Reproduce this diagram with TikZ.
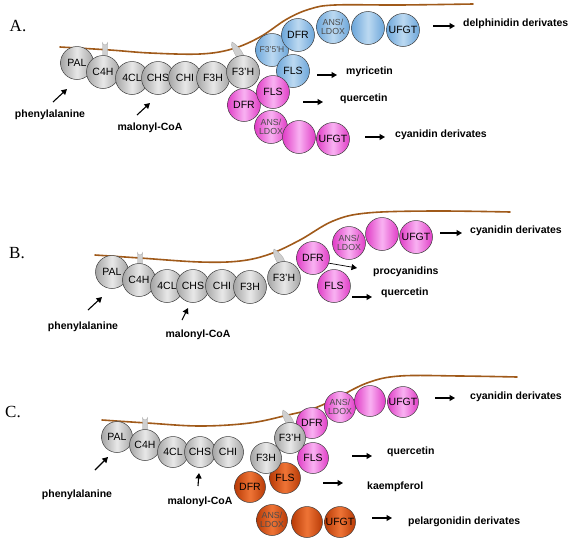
\documentclass[tikz,border=0pt]{standalone}
\usepackage{fontspec}
\setmainfont{Liberation Sans}
\newfontfamily\panelfont{Liberation Serif}
\usetikzlibrary{arrows.meta}
\definecolor{membc}{HTML}{A05A1A}
\definecolor{gEdge}{HTML}{A4A4A4}
\definecolor{gMid}{HTML}{E8E8E8}
\definecolor{bEdge}{HTML}{6CA6DA}
\definecolor{bMid}{HTML}{BCD9F1}
\definecolor{pEdge}{HTML}{E03CC6}
\definecolor{pMid}{HTML}{F9B2F2}
\definecolor{oEdge}{HTML}{B83A06}
\definecolor{oMid}{HTML}{EE7436}
\definecolor{pinc}{HTML}{CFCFCF}
\tikzset{
  enz/.style={circle, draw=black!75, line width=0.5pt, minimum size=33pt, inner sep=0pt,
    font=\fontsize{10.5}{11}\selectfont},
  smallenz/.style={minimum size=31pt},
  enzG/.style={enz, left color=gEdge, right color=gEdge, middle color=gMid},
  enzB/.style={enz, left color=bEdge, right color=bEdge, middle color=bMid},
  enzP/.style={enz, left color=pEdge, right color=pEdge, middle color=pMid},
  enzO/.style={enz, left color=oEdge, right color=oEdge, middle color=oMid},
  tinytxt/.style={font=\fontsize{8.8}{9}\selectfont, text=black!70, align=center},
  membrane/.style={draw=membc, line width=1.6pt, line cap=round},
  pinst/.style={fill=pinc, draw=black!35, line width=0.3pt},
  prod/.style={anchor=west, inner sep=0pt, font=\bfseries\fontsize{10.5}{12}\selectfont},
  subst/.style={anchor=center, inner sep=0pt, font=\bfseries\fontsize{10.5}{12}\selectfont},
  arr/.style={-{Triangle[length=5.5pt,width=6pt]}, line width=1.1pt},
  thinarr/.style={-{Triangle[length=5.5pt,width=6pt]}, line width=0.7pt},
  panel/.style={font=\panelfont\fontsize{17}{17}\selectfont, inner sep=0pt}
}
\begin{document}
\begin{tikzpicture}[x=1pt,y=-1pt]
\useasboundingbox (0,0) rectangle (576,541);
\fill[white] (0,0) rectangle (576,541);

% ================= Panel A =================
\node[panel] (labA) at (18,26) {A.};
\draw[membrane] plot[smooth, tension=0.6] coordinates {(60,47) (110,50) (150,53) (200,54) (232,49) (260,37) (287,19) (310,9) (335,5) (400,5) (473,4)};
% pins
\draw[pinst] (102.5,58) -- (102.5,42.5) arc (180:0:2.5) -- (107.5,58) -- cycle;
\draw[pinst] (237,58) .. controls (234,52) and (230,46) .. (232,42) .. controls (236,44) and (242,50) .. (244,56) -- cycle;
% gray chain
\node[enzG] (aPAL) at (77,63) {PAL};
\node[enzG] (aC4H) at (103,72) {C4H};
\node[enzG] (a4CL) at (132,78) {4CL};
\node[enzG] (aCHS) at (158,78) {CHS};
\node[enzG] (aCHI) at (185,78) {CHI};
\node[enzG] (aF3H) at (213,78) {F3H};
% blue branch
\node[enzB, font=\fontsize{8.5}{9}\selectfont, text=black!70] (aF35H) at (272,50) {F3'5'H};
\node[enzG] (aF3pH) at (243,72) {F3'H};
\node[enzB, tinytxt] (aANSb) at (333,27) {ANS/\\LDOX};
\node[enzB] (aDFRb) at (298,35) {DFR};
\node[enzB] (aBLb) at (368,28) {};
\node[enzB] (aUFGTb) at (403,30) {UFGT};
\node[enzB] (aFLSb) at (293,71) {FLS};
% pink branch
\node[enzP, tinytxt] (aANSp) at (271,127) {ANS/\\LDOX};
\node[enzP] (aDFRp) at (244,105) {DFR};
\node[enzP] (aFLSp) at (273,92) {FLS};
\node[enzP] (aBLp) at (299,137) {};
\node[enzP] (aUFGTp) at (333,139) {UFGT};
% products A
\coordinate (aDelS) at (433,26); \coordinate (aDelE) at (455,26);
\draw[arr] (aDelS) -- (aDelE);
\node[prod] (aDelT) at (463,24) {delphinidin derivates};
\coordinate (aMyrS) at (317,75); \coordinate (aMyrE) at (337,75);
\draw[arr] (aMyrS) -- (aMyrE);
\node[prod] (aMyrT) at (346,72) {myricetin};
\coordinate (aQueS) at (303,102); \coordinate (aQueE) at (323,102);
\draw[arr] (aQueS) -- (aQueE);
\node[prod] (aQueT) at (340,99) {quercetin};
\coordinate (aCyaS) at (365,137); \coordinate (aCyaE) at (385,137);
\draw[arr] (aCyaS) -- (aCyaE);
\node[prod] (aCyaT) at (395,135) {cyanidin derivates};
% substrates A
\coordinate (aPheS) at (53,102); \coordinate (aPheE) at (67,89);
\draw[arr] (aPheS) -- (aPheE);
\node[subst] (aPheT) at (50,115) {phenylalanine};
\coordinate (aMalS) at (137,115); \coordinate (aMalE) at (150,103);
\draw[arr] (aMalS) -- (aMalE);
\node[subst] (aMalT) at (150,128) {malonyl-CoA};

% ================= Panel B =================
\node[panel] (labB) at (17,253) {B.};
\draw[membrane] plot[smooth, tension=0.6] coordinates {(95,255) (140,258) (200,262) (240,261) (270,254) (300,240) (333,221) (367,213) (433,211) (510,212)};
\draw[pinst] (137.5,266) -- (137.5,252.5) arc (180:0:2.5) -- (142.5,266) -- cycle;
\draw[pinst] (278,264) .. controls (275,258) and (272,253) .. (274,249) .. controls (278,251) and (284,257) .. (285,262) -- cycle;
\node[enzG] (bPAL) at (112,272) {PAL};
\node[enzG] (bC4H) at (139,280) {C4H};
\node[enzG] (b4CL) at (167,286) {4CL};
\node[enzG] (bCHS) at (193,286) {CHS};
\node[enzG] (bCHI) at (222,286) {CHI};
\node[enzG] (bF3H) at (250,287) {F3H};
\node[enzG] (bF3pH) at (284,278) {F3'H};
\node[enzP, tinytxt] (bANS) at (349,243) {ANS/\\LDOX};
\node[enzP] (bDFR) at (313,258) {DFR};
\node[enzP] (bFLS) at (334,286) {FLS};
\node[enzP] (bBL) at (382,234) {};
\node[enzP] (bUFGT) at (416,237) {UFGT};
\coordinate (bCyaS) at (440,233); \coordinate (bCyaE) at (462,233);
\draw[arr] (bCyaS) -- (bCyaE);
\node[prod] (bCyaT) at (470,231) {cyanidin derivates};
\coordinate (bProE) at (357,268);
\draw[thinarr] (bDFR.-18) -- (bProE);
\node[prod] (bProT) at (373,272) {procyanidins};
\coordinate (bQueS) at (352,297); \coordinate (bQueE) at (372,297);
\draw[arr] (bQueS) -- (bQueE);
\node[prod] (bQueT) at (381,293) {quercetin};
\coordinate (bPheS) at (88,310); \coordinate (bPheE) at (102,297);
\draw[arr] (bPheS) -- (bPheE);
\node[subst] (bPheT) at (83,327) {phenylalanine};
\coordinate (bMalS) at (182,320); \coordinate (bMalE) at (188,308);
\draw[arr] (bMalS) -- (bMalE);
\node[subst] (bMalT) at (198,335) {malonyl-CoA};

% ================= Panel C =================
\node[panel] (labC) at (13,412) {C.};
\draw[membrane] plot[smooth, tension=0.6] coordinates {(102,420) (147,423) (200,426) (250,423) (288,415) (312,409) (333,400) (367,383) (400,376) (460,376) (517,377)};
\draw[pinst] (142.5,431) -- (142.5,417.5) arc (180:0:2.5) -- (147.5,431) -- cycle;
\draw[pinst] (287,425) .. controls (284,419) and (281,414) .. (283,410) .. controls (287,412) and (293,418) .. (294,423) -- cycle;
% orange branch (behind)
\node[enzO, smallenz, tinytxt] (cANSo) at (272,520) {ANS/\\LDOX};
\node[enzO, smallenz] (cDFRo) at (250,487) {DFR};
\node[enzO, smallenz] (cFLSo) at (285,478) {FLS};
\node[enzO, smallenz] (cBLo) at (307,522) {};
\node[enzO, smallenz] (cUFGTo) at (340,522) {UFGT};
% gray chain
\node[enzG, smallenz] (cPAL) at (117,437) {PAL};
\node[enzG, smallenz] (cC4H) at (145,445) {C4H};
\node[enzG, smallenz] (c4CL) at (173,452) {4CL};
\node[enzG, smallenz] (cCHS) at (200,452) {CHS};
\node[enzG, smallenz] (cCHI) at (228,452) {CHI};
\node[enzG, smallenz] (cF3H) at (266,458) {F3H};
% pink branch
\node[enzP, smallenz] (cDFR) at (312,423) {DFR};
\node[enzP, smallenz] (cFLS) at (313,458) {FLS};
\node[enzG, smallenz] (cF3pH) at (290,438) {F3'H};
\node[enzP, smallenz, tinytxt] (cANS) at (340,407) {ANS/\\LDOX};
\node[enzP, smallenz] (cBL) at (370,401) {};
\node[enzP, smallenz] (cUFGT) at (403,402) {UFGT};
% products C
\coordinate (cCyaS) at (435,398); \coordinate (cCyaE) at (455,398);
\draw[arr] (cCyaS) -- (cCyaE);
\node[prod] (cCyaT) at (470,397) {cyanidin derivates};
\coordinate (cQueS) at (352,456); \coordinate (cQueE) at (372,456);
\draw[arr] (cQueS) -- (cQueE);
\node[prod] (cQueT) at (387,452) {quercetin};
\coordinate (cKaeS) at (323,483); \coordinate (cKaeE) at (343,483);
\draw[arr] (cKaeS) -- (cKaeE);
\node[prod] (cKaeT) at (367,487) {kaempferol};
\coordinate (cPelS) at (372,518); \coordinate (cPelE) at (392,518);
\draw[arr] (cPelS) -- (cPelE);
\node[prod] (cPelT) at (408,522) {pelargonidin derivates};
\coordinate (cPheS) at (95,470); \coordinate (cPheE) at (108,457);
\draw[arr] (cPheS) -- (cPheE);
\node[subst] (cPheT) at (77,495) {phenylalanine};
\coordinate (cMalS) at (198,486); \coordinate (cMalE) at (199,473);
\draw[arr] (cMalS) -- (cMalE);
\node[subst] (cMalT) at (200,502) {malonyl-CoA};
\end{tikzpicture}
\end{document}
